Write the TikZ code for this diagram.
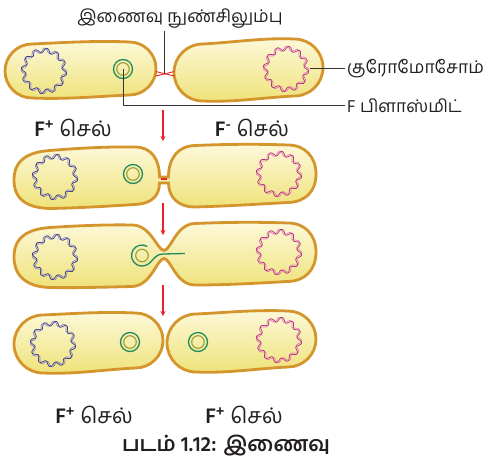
\documentclass[tikz,border=0pt]{standalone}
\usepackage{fontspec}
\setmainfont[Script=Tamil]{Hind Madurai}
\usetikzlibrary{arrows.meta}

\definecolor{cellborder}{HTML}{D3952C}
\definecolor{celltop}{HTML}{FDF9DA}
\definecolor{cellbot}{HTML}{EFE279}
\definecolor{chrblueA}{HTML}{3E3E8C}
\definecolor{chrblueB}{HTML}{8A86C4}
\definecolor{chrpinkA}{HTML}{B8307F}
\definecolor{chrpinkB}{HTML}{E07FB8}
\definecolor{plgreen}{HTML}{1F8A5E}
\definecolor{plolive}{HTML}{9EA43A}
\definecolor{pilusred}{HTML}{E8232B}
\definecolor{leadgray}{HTML}{333333}
\definecolor{textdark}{HTML}{231F20}

% bean-shaped bacterial cell: [style]{L}{R}{top-left}{top-right}{bottom-left}{bottom-right}
\newcommand\beancell[7][]{%
  \pgfmathsetmacro\cbL{#2}\pgfmathsetmacro\cbR{#3}%
  \pgfmathsetmacro\cbTl{#4}\pgfmathsetmacro\cbTr{#5}%
  \pgfmathsetmacro\cbBl{#6}\pgfmathsetmacro\cbBr{#7}%
  \pgfmathsetmacro\cbrl{(\cbBl-\cbTl)/2}\pgfmathsetmacro\cbrr{(\cbBr-\cbTr)/2}%
  \pgfmathsetmacro\cbml{(\cbBl+\cbTl)/2}\pgfmathsetmacro\cbmr{(\cbBr+\cbTr)/2}%
  \pgfmathsetmacro\cbkl{0.55*\cbrl}\pgfmathsetmacro\cbkr{0.55*\cbrr}%
  \pgfmathsetmacro\cbxa{\cbL+\cbrl}\pgfmathsetmacro\cbxb{\cbR-\cbrr}%
  \pgfmathsetmacro\cbdd{(\cbxb-\cbxa)/3}%
  \path[cell,#1] (\cbL,\cbml) .. controls (\cbL,\cbml-\cbkl) and (\cbxa-\cbkl,\cbTl) .. (\cbxa,\cbTl)
    .. controls (\cbxa+\cbdd,\cbTl-1.5) and (\cbxb-\cbdd,\cbTr-1.5) .. (\cbxb,\cbTr)
    .. controls (\cbxb+\cbkr,\cbTr) and (\cbR,\cbmr-\cbkr) .. (\cbR,\cbmr)
    .. controls (\cbR,\cbmr+\cbkr) and (\cbxb+\cbkr,\cbBr) .. (\cbxb,\cbBr)
    .. controls (\cbxb-\cbdd,\cbBr+1.5) and (\cbxa+\cbdd,\cbBl+1.5) .. (\cbxa,\cbBl)
    .. controls (\cbxa-\cbkl,\cbBl) and (\cbL,\cbml+\cbkl) .. (\cbL,\cbml) -- cycle;
}

% circular chromosome drawn as a wavy double strand around a named centre
\newcommand\chromo[3]{%
  \begin{scope}[shift={(#1.center)}]
    \draw[line width=0.75pt,#3] plot[domain=0:360,samples=300,smooth cycle]
      (\x:{20.5+2.3*sin(12*\x+65)});
    \draw[line width=0.75pt,#2] plot[domain=0:360,samples=300,smooth cycle]
      (\x:{20.5+2.3*sin(12*\x)});
  \end{scope}}

% F plasmid: two concentric rings around a named centre
\newcommand\plasmid[1]{%
  \draw[plring] (#1.center) circle[radius=9.5];
  \draw[plinner] (#1.center) circle[radius=6.3];}

\begin{document}
\begin{tikzpicture}[x=1pt,y=-1pt,
  cell/.style={draw=cellborder,line width=2.8pt,top color=celltop,bottom color=cellbot},
  plring/.style={draw=plgreen,line width=1.3pt},
  plinner/.style={draw=plolive,line width=1.2pt},
  anchorpt/.style={inner sep=0pt,minimum size=0pt},
  chrnode/.style={circle,inner sep=0pt,minimum size=47pt},
  pilus/.style={draw=pilusred,line width=0.9pt},
  lead/.style={draw=leadgray,line width=1pt},
  flow/.style={draw=pilusred,line width=1.5pt,-{Stealth[length=5pt,width=5pt]}},
  lbl/.style={text=textdark,inner sep=2pt,font=\fontsize{17.5}{20}\selectfont},
  celltag/.style={text=textdark,inner sep=1pt,font=\fontsize{21.5}{24}\selectfont}]

\useasboundingbox (0,0) rectangle (486,462);

% ---------- stage 1: cells joined by the pilus ----------
\beancell{5}{156}{44}{42}{98}{95}
\beancell{174}{323}{44}{39}{101}{96}
\draw[pilus] (155.5,71.5) -- (174.5,76);
\draw[pilus] (155.5,76) -- (174.5,71.5);
\coordinate (pil1) at (164,73.8);

\node[chrnode] (c1L) at (44,71) {};
\node[chrnode] (c1R) at (286,69) {};
\chromo{c1L}{chrblueA}{chrblueB}
\chromo{c1R}{chrpinkA}{chrpinkB}
\node[anchorpt] (p1) at (123,69) {};
\plasmid{p1}

\node[lbl] (tPil) at (180,19) {இணைவு நுண்சிலும்பு};
\node[lbl,anchor=west] (tChr) at (345,69) {குரோமோசோம்};
\node[lbl,anchor=west] (tPl) at (345,106) {F பிளாஸ்மிட்};
\draw[lead] (tPil.south -| pil1) -- (pil1);
\draw[lead] (c1R.east) -- (tChr.west);
\draw[lead] (p1.center) |- (tPl.west);

\node[celltag] (tFp1) at (73,128) {\textbf{F\textsuperscript{+}} செல்};
\node[celltag] (tFm1) at (252,128) {\textbf{F\textsuperscript{-}} செல்};

\coordinate (a1s) at (163,110);
\coordinate (a1e) at (163,141);
\draw[flow] (a1s) -- (a1e);

% ---------- stage 2: cytoplasmic bridge ----------
\path[cell] (14,180) .. controls (14,160) and (28,152) .. (50,150.5)
  .. controls (80,148) and (110,146.5) .. (135,147)
  .. controls (152,147) and (159.5,160) .. (159.5,177)
  -- (168.5,177)
  .. controls (168.5,158) and (178,146) .. (195,145.5)
  .. controls (230,144) and (260,144) .. (288,145)
  .. controls (305,145) and (316,157) .. (316,174)
  .. controls (316,192) and (305,202) .. (288,202.5)
  .. controls (260,204) and (230,206) .. (195,207)
  .. controls (178,207) and (168.5,197) .. (168.5,183)
  -- (159.5,183)
  .. controls (159.5,197) and (150,204) .. (135,204.5)
  .. controls (110,206) and (80,208) .. (50,208.5)
  .. controls (28,208) and (14,200) .. (14,180) -- cycle;
\coordinate (br2a) at (160.8,179.2);
\coordinate (br2b) at (167.2,179.2);
\draw[draw=pilusred,line width=2pt] (br2a) -- (br2b);

\node[chrnode] (c2L) at (55,177) {};
\node[chrnode] (c2R) at (279,174) {};
\chromo{c2L}{chrblueA}{chrblueB}
\chromo{c2R}{chrpinkA}{chrpinkB}
\node[anchorpt] (p2) at (133,174) {};
\plasmid{p2}

\coordinate (a2s) at (163,203);
\coordinate (a2e) at (163,235);
\draw[flow] (a2s) -- (a2e);

% ---------- stage 3: plasmid strand transferred ----------
\path[cell] (14,257) .. controls (14,237) and (28,229) .. (50,227.5)
  .. controls (80,225.5) and (110,224.5) .. (132,225)
  .. controls (151,225) and (157,250) .. (164,250.5)
  .. controls (171,250) and (176,224) .. (195,223.5)
  .. controls (230,222) and (260,222) .. (288,223)
  .. controls (305,223) and (316,235) .. (316,252)
  .. controls (316,270) and (305,281) .. (288,281.5)
  .. controls (260,283) and (230,285) .. (195,285)
  .. controls (176,285) and (171,259) .. (164,258.5)
  .. controls (157,259) and (151,286) .. (132,286.5)
  .. controls (110,287) and (80,288) .. (50,287.5)
  .. controls (28,287) and (14,277) .. (14,257) -- cycle;

\node[chrnode] (c3L) at (55,257) {};
\node[chrnode] (c3R) at (279,252) {};
\chromo{c3L}{chrblueA}{chrblueB}
\chromo{c3R}{chrpinkA}{chrpinkB}
\node[anchorpt] (p3) at (142,255.5) {};
\coordinate (tail3) at (185,253.5);
\draw[plinner] (p3.center) circle[radius=6.3];
\draw[plring] (p3.center) ++(-60:10.5) arc[start angle=-60,end angle=-270,radius=10.5]
  .. controls +(10,0) and +(-10,0) .. (163,254) -- (tail3);

\coordinate (a3s) at (163,285);
\coordinate (a3e) at (163,316);
\draw[flow] (a3s) -- (a3e);

% ---------- stage 4: two F+ cells ----------
\beancell{14}{163}{315}{313}{373}{368}
\beancell{167}{316}{314}{311}{372}{367}
\node[chrnode] (c4L) at (53,344) {};
\node[chrnode] (c4R) at (279,340) {};
\chromo{c4L}{chrblueA}{chrblueB}
\chromo{c4R}{chrpinkA}{chrpinkB}
\node[anchorpt] (p4L) at (130,342) {};
\node[anchorpt] (p4R) at (198,342) {};
\plasmid{p4L}
\plasmid{p4R}

\node[celltag] (tFp2) at (94,415) {\textbf{F\textsuperscript{+}} செல்};
\node[celltag] (tFp3) at (244,415) {\textbf{F\textsuperscript{+}} செல்};
\node[celltag,font=\fontsize{21}{24}\selectfont\bfseries] (tCap) at (226,446) {படம் 1.12: இணைவு};

\end{tikzpicture}
\end{document}
